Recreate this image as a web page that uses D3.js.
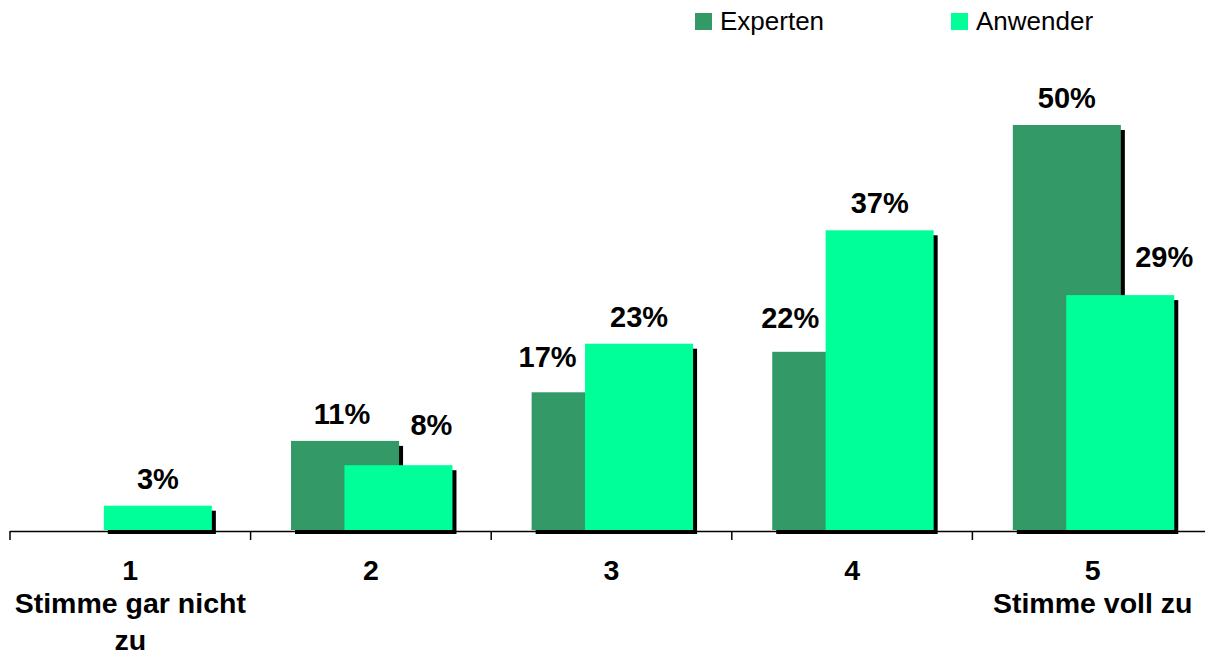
<!DOCTYPE html>
<html>
<head>
<meta charset="utf-8">
<script src="https://cdn.jsdelivr.net/npm/d3@7"></script>
<style>
	body { margin: 0; background: #fff; }
	svg { display: block; font-family: 'Liberation Sans', Arial, sans-serif; }
</style>
</head>
<body>
<div id="canvas"></div>
<script>
const w = 1205
const h = 655

// data
const categories = ['1', '2', '3', '4', '5']
const categoryNotes = ['Stimme gar nicht|zu', '', '', '', 'Stimme voll zu']
const experten = [0, 11, 17, 22, 50]
const anwender = [3, 8, 23, 37, 29]
const seriesNames = ['Experten', 'Anwender']
const colors = ['#339966', '#00ff99']

// label nudges (dx, extra lift) where Excel moved labels aside
const labelNudge = {
	Experten: [[0, 0], [-3, 0], [-38, 8], [-36, 7], [0, 0]],
	Anwender: [[0, 0], [33, 13], [0, 0], [0, 0], [44, 11]]
}

const svg = d3.select('#canvas')
	.append('svg')
	.attr('width', w)
	.attr('height', h);

const x = d3.scaleBand()
	.domain(categories)
	.range([10, 1213])
	.padding(0);

const y = d3.scaleLinear()
	.domain([0, 50])
	.range([530, 125]);

const bw = x.bandwidth();
const barW = bw * 0.449;
const offsets = [bw * 0.168, bw * 0.39];

const series = [experten, anwender];

series.forEach((values, si) => {
	const g = svg.append('g');
	const data = values.map((v, i) => ({ cat: categories[i], v: v, i: i }))
		.filter(d => d.v > 0);

	// shadows
	g.selectAll('rect.shadow')
		.data(data)
		.enter()
		.append('rect')
			.attr('class', 'shadow')
			.attr('x', d => x(d.cat) + offsets[si] + 4)
			.attr('y', d => y(d.v) + 5)
			.attr('width', barW)
			.attr('height', d => y(0) - y(d.v) - 1)
			.attr('fill', '#000');

	g.selectAll('rect.bar')
		.data(data)
		.enter()
		.append('rect')
			.attr('class', 'bar')
			.attr('x', d => x(d.cat) + offsets[si])
			.attr('y', d => y(d.v))
			.attr('width', barW)
			.attr('height', d => y(0) - y(d.v))
			.attr('fill', colors[si]);
});

// value labels on top
series.forEach((values, si) => {
	const nudge = labelNudge[seriesNames[si]];
	const data = values.map((v, i) => ({ cat: categories[i], v: v, i: i }))
		.filter(d => d.v > 0);
	svg.append('g').selectAll('text')
		.data(data)
		.enter()
		.append('text')
			.attr('x', d => x(d.cat) + offsets[si] + barW / 2 + nudge[d.i][0])
			.attr('y', d => y(d.v) - 17 - nudge[d.i][1])
			.attr('text-anchor', 'middle')
			.attr('font-size', 29)
			.attr('font-weight', 'bold')
			.attr('fill', '#000')
			.text(d => d.v + '%');
});

// axis
const axis = svg.append('g');
axis.append('line')
	.attr('x1', x.range()[0])
	.attr('x2', x.range()[1])
	.attr('y1', 531.5)
	.attr('y2', 531.5)
	.attr('stroke', '#000')
	.attr('stroke-width', 1.5);

const tickPos = categories.map(c => x(c)).concat([x.range()[1]]);
axis.selectAll('line.tick')
	.data(tickPos)
	.enter()
	.append('line')
		.attr('class', 'tick')
		.attr('x1', d => d)
		.attr('x2', d => d)
		.attr('y1', 531)
		.attr('y2', 540)
		.attr('stroke', '#000')
		.attr('stroke-width', 1.5);

const catLabels = axis.selectAll('text.cat')
	.data(categories)
	.enter()
	.append('text')
		.attr('class', 'cat')
		.attr('text-anchor', 'middle')
		.attr('font-size', 28.5)
		.attr('font-weight', 'bold')
		.attr('fill', '#000');

catLabels.each(function(c, i) {
	const t = d3.select(this);
	const cx = x(c) + bw / 2;
	const lines = [c].concat(categoryNotes[i] ? categoryNotes[i].split('|') : []);
	const baselines = [580, 613, 650];
	lines.forEach((line, li) => {
		t.append('tspan')
			.attr('x', cx)
			.attr('y', baselines[li])
			.text(line);
	});
});

// legend
const legendX = [695, 951];
const legend = svg.append('g');
seriesNames.forEach((name, i) => {
	legend.append('rect')
		.attr('x', legendX[i])
		.attr('y', 13)
		.attr('width', 17)
		.attr('height', 17)
		.attr('fill', colors[i]);
	legend.append('text')
		.attr('x', legendX[i] + 25)
		.attr('y', 30)
		.attr('font-size', 26)
		.attr('fill', '#000')
		.text(name);
});
</script>
</body>
</html>
